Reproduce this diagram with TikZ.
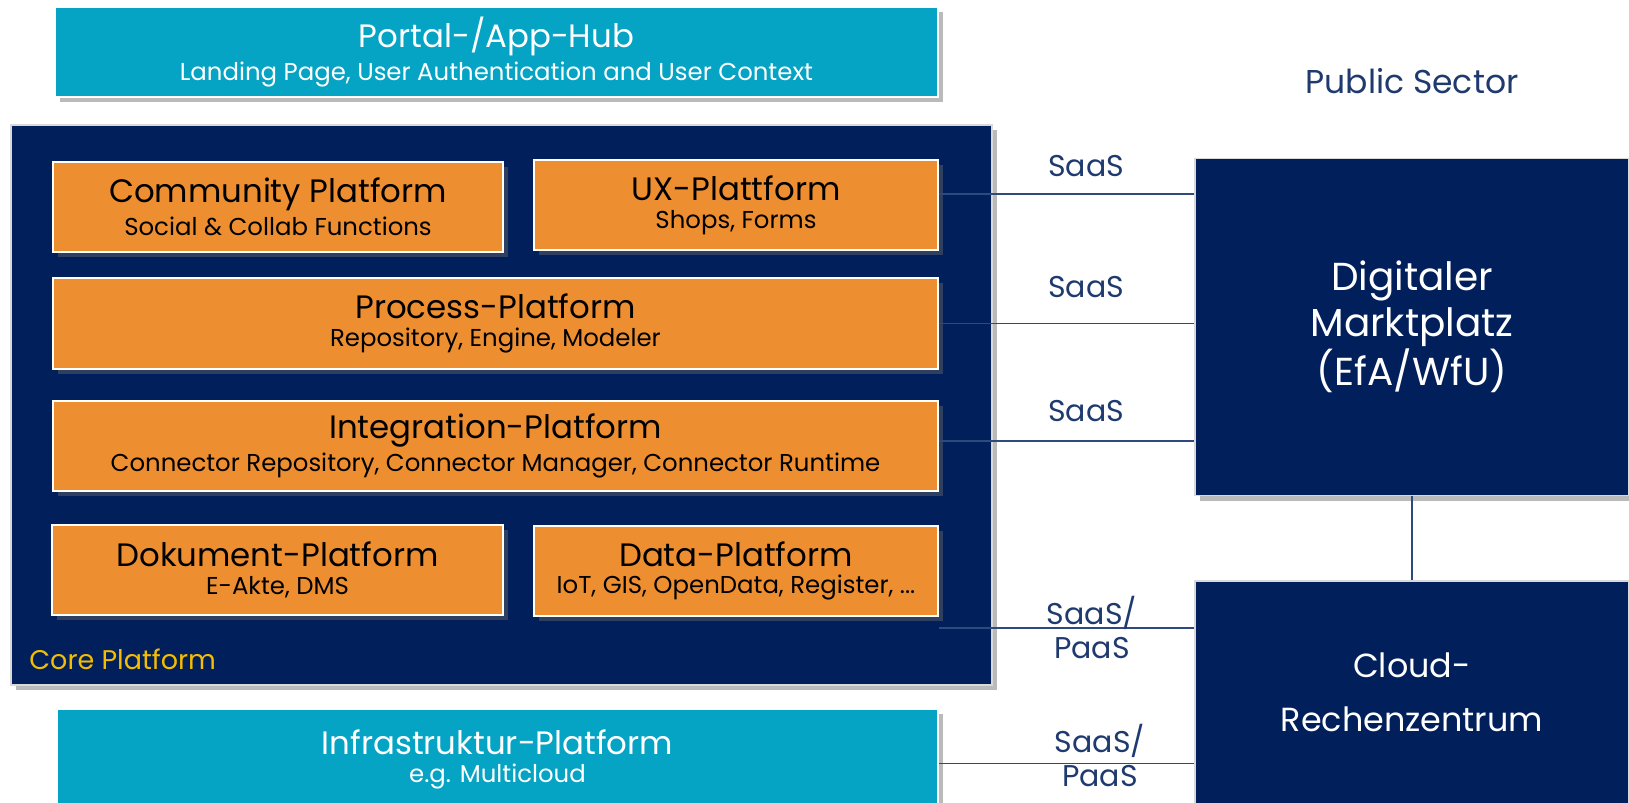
\documentclass[tikz,border=0pt]{standalone}
\usepackage{fontspec}
\setmainfont{Poppins}
\usetikzlibrary{shadows,calc}
\definecolor{corenavy}{HTML}{001F5B}
\definecolor{hubteal}{HTML}{06A4C4}
\definecolor{platorange}{HTML}{ED8E31}
\definecolor{coregold}{HTML}{F5BD00}
\definecolor{linenavy}{HTML}{2E4A7D}
\definecolor{labelnavy}{HTML}{1F3A6E}
\newcommand\bxtitle{\fontsize{16.2}{18}\selectfont}
\newcommand\bxsub{\fontsize{12.2}{19.5}\selectfont}
\tikzset{
  shadowed/.style={drop shadow={opacity=0.45, shadow xshift=2.5pt, shadow yshift=-2.5pt, fill=black!60}},
  plain/.style={rectangle, inner sep=0pt, align=center},
  tealbox/.style={plain, fill=hubteal, draw=white, line width=0.8pt, text=white, shadowed},
  orangebox/.style={plain, fill=platorange, draw=white, line width=1pt, text=black, shadowed},
  navybox/.style={plain, fill=corenavy, draw=white!85!black, line width=0.6pt, text=white, shadowed},
  conn/.style={draw=linenavy, line width=0.7pt},
  saas/.style={text=labelnavy, font=\fontsize{15}{17}\selectfont, align=center, inner sep=0pt},
}
\begin{document}
\begin{tikzpicture}[x=0.5pt,y=-0.5pt]
\useasboundingbox[fill=white] (0,0) rectangle (1629,803);
% Portal
\node[tealbox, minimum width=441.5pt, minimum height=45pt] (portal) at (496.5,52)
  {\bxtitle Portal-/App-Hub\\[1.8pt]\bxsub Landing Page, User Authentication and User Context};
% Core
\node[navybox, minimum width=490.5pt, minimum height=280pt] (core) at (501.5,405) {};
\node[anchor=west, text=coregold, font=\fontsize{13.5}{16}\selectfont, inner sep=0pt] (corelbl) at (29,659) {Core Platform};
\node[orangebox, minimum width=225pt, minimum height=45pt] (comm) at (278,207)
  {\bxtitle Community Platform\\[1.8pt]\bxsub Social \& Collab Functions};
\node[orangebox, minimum width=202pt, minimum height=45pt] (ux) at (736,205)
  {\bxtitle UX-Plattform\\[1.8pt]\bxsub Shops, Forms};
\node[orangebox, minimum width=442.5pt, minimum height=45.5pt] (proc) at (495.5,323.5)
  {\bxtitle Process-Platform\\[1.8pt]\bxsub Repository, Engine, Modeler};
\node[orangebox, minimum width=442.5pt, minimum height=45pt] (integ) at (495.5,446)
  {\bxtitle Integration-Platform\\[1.8pt]\bxsub Connector Repository, Connector Manager, Connector Runtime};
\node[orangebox, minimum width=225.5pt, minimum height=45pt] (dok) at (277.5,570)
  {\bxtitle Dokument-Platform\\[1.8pt]\bxsub E-Akte, DMS};
\node[orangebox, minimum width=202pt, minimum height=45pt] (data) at (736,571)
  {\bxtitle Data-Platform\\[1.8pt]\bxsub IoT, GIS, OpenData, Register, ...};
% Infra
\node[tealbox, minimum width=440.5pt, minimum height=50.5pt] (infra) at (497.5,759.5)
  {\bxtitle Infrastruktur-Platform\\[1.8pt]\bxsub e.g. Multicloud};
% Right side
\node[text=labelnavy, font=\fontsize{16.5}{18}\selectfont, inner sep=0pt] (pub) at (1412,81) {Public Sector};
\node[navybox, minimum width=217pt, minimum height=168.5pt, font=\fontsize{19.5}{23}\selectfont] (dm) at (1412,327)
  {Digitaler\\Marktplatz\\(EfA/WfU)};
\node[navybox, minimum width=217pt, minimum height=124.5pt] (cloud) at (1412,705.5) {};
\node[text=white, align=center, inner sep=0pt, font=\fontsize{16.7}{27}\selectfont] (cloudtxt) at (1412,692) {Cloud-\\Rechenzentrum};
% Connectors
\draw[conn] ([yshift=5.5pt]ux.east) coordinate (c1) -- (c1 -| dm.west);
\draw[conn] (proc.east) -- (proc.east -| dm.west);
\draw[conn] ([yshift=2.5pt]integ.east) coordinate (c3) -- (c3 -| dm.west);
\draw[conn] ([yshift=-5.5pt]data.south east) coordinate (c4) -- (c4 -| cloud.west);
\draw[conn] ([yshift=-2pt]infra.east) coordinate (c5) -- (c5 -| cloud.west);
\draw[conn] (dm.south) -- (cloud.north);
% Labels
\node[saas] (s1) at (1086,166) {SaaS};
\node[saas] (s2) at (1086,287) {SaaS};
\node[saas] (s3) at (1086,411) {SaaS};
\node[saas] (s4) at (1092,627) {SaaS/\\PaaS};
\node[saas] (s5) at (1100,755) {SaaS/\\PaaS};
\end{tikzpicture}
\end{document}
